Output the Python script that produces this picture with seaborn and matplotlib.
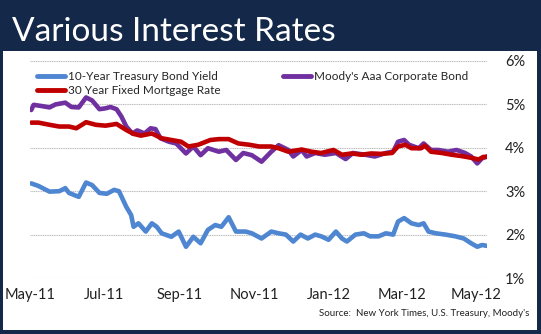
import matplotlib
matplotlib.use("Agg")
import matplotlib.pyplot as plt
import matplotlib.dates as mdates
from matplotlib.patches import Rectangle
import pandas as pd
import seaborn as sns

# ---------------- data ----------------
treasury_dates = [
    "2011-05-02", "2011-05-08", "2011-05-17", "2011-05-25", "2011-05-30", "2011-06-02",
    "2011-06-10", "2011-06-16", "2011-06-21", "2011-06-27", "2011-07-03", "2011-07-09",
    "2011-07-13", "2011-07-19", "2011-07-23", "2011-07-25", "2011-07-29", "2011-08-04",
    "2011-08-09", "2011-08-13", "2011-08-17", "2011-08-25", "2011-08-31", "2011-09-06",
    "2011-09-12", "2011-09-18", "2011-09-24", "2011-09-30", "2011-10-05", "2011-10-11",
    "2011-10-17", "2011-10-25", "2011-10-30", "2011-11-07", "2011-11-15",
    "2011-11-21", "2011-11-27", "2011-12-03", "2011-12-09", "2011-12-15", "2011-12-21",
    "2011-12-26", "2012-01-01", "2012-01-07", "2012-01-12", "2012-01-16", "2012-01-23",
    "2012-01-30", "2012-02-04", "2012-02-11", "2012-02-17", "2012-02-23", "2012-02-27",
    "2012-03-03", "2012-03-09", "2012-03-15", "2012-03-19", "2012-03-23", "2012-03-29",
    "2012-04-06", "2012-04-14", "2012-04-21", "2012-04-27", "2012-05-02", "2012-05-06",
    "2012-05-10",
]
treasury_yield = [
    3.18, 3.12, 2.99, 3.00, 3.07, 2.96, 2.87, 3.20, 3.14, 2.96, 2.94, 3.03,
    3.00, 2.64, 2.45, 2.18, 2.26, 2.07, 2.26, 2.18, 2.03, 1.95, 2.07, 1.72,
    1.95, 1.80, 2.11, 2.22, 2.18, 2.40, 2.07, 2.07, 2.03, 1.91, 2.07,
    2.03, 2.00, 1.84, 2.00, 1.91, 2.00, 1.96, 1.88, 2.07, 1.91, 1.84, 2.00,
    2.03, 1.96, 1.96, 2.03, 2.00, 2.30, 2.38, 2.26, 2.22, 2.26, 2.07, 2.03,
    2.00, 1.96, 1.91, 1.80, 1.72, 1.76, 1.74,
]

moodys_dates = [
    "2011-05-02", "2011-05-04", "2011-05-11", "2011-05-17", "2011-05-22", "2011-05-30",
    "2011-06-04", "2011-06-10", "2011-06-16", "2011-06-21", "2011-06-27", "2011-07-02",
    "2011-07-06", "2011-07-11", "2011-07-15", "2011-07-19", "2011-07-24", "2011-07-28",
    "2011-08-03", "2011-08-08", "2011-08-12", "2011-08-16", "2011-08-23", "2011-08-29",
    "2011-09-06", "2011-09-12", "2011-09-18", "2011-09-24", "2011-10-03", "2011-10-09",
    "2011-10-17", "2011-10-23", "2011-10-30", "2011-11-07", "2011-11-15",
    "2011-11-21", "2011-11-29", "2011-12-03", "2011-12-10", "2011-12-14", "2011-12-21",
    "2011-12-29", "2012-01-07", "2012-01-15", "2012-01-21", "2012-01-31", "2012-02-08",
    "2012-02-17", "2012-02-23", "2012-02-27", "2012-03-03", "2012-03-07", "2012-03-15",
    "2012-03-19", "2012-03-25", "2012-03-31", "2012-04-08", "2012-04-15", "2012-04-22",
    "2012-04-27", "2012-05-02", "2012-05-06", "2012-05-10",
]
moodys_aaa = [
    4.87, 4.99, 4.96, 4.93, 5.00, 5.04, 4.94, 4.93, 5.16, 5.09, 4.89, 4.91,
    4.94, 4.89, 4.72, 4.49, 4.33, 4.40, 4.33, 4.45, 4.43, 4.22, 4.14, 4.10,
    3.87, 4.03, 3.83, 3.99, 3.91, 3.95, 3.72, 3.88, 3.83, 3.68, 3.91,
    4.06, 3.95, 3.80, 3.95, 3.80, 3.88, 3.84, 3.88, 3.74, 3.88, 3.84, 3.80,
    3.88, 3.91, 4.14, 4.18, 4.07, 3.99, 4.10, 3.95, 3.95, 3.91, 3.95, 3.88,
    3.80, 3.64, 3.76, 3.80,
]

mortgage_dates = [
    "2011-05-02", "2011-05-08", "2011-05-17", "2011-05-25", "2011-06-02", "2011-06-08",
    "2011-06-16", "2011-06-24", "2011-07-02", "2011-07-11", "2011-07-19", "2011-07-25",
    "2011-07-31", "2011-08-09", "2011-08-17", "2011-08-25", "2011-09-02", "2011-09-08",
    "2011-09-16", "2011-09-26", "2011-10-03", "2011-10-11", "2011-10-19", "2011-10-28",
    "2011-11-05", "2011-11-15",
    "2011-11-21", "2011-11-29", "2011-12-10", "2011-12-18", "2011-12-26", "2012-01-05",
    "2012-01-12", "2012-01-20", "2012-01-28", "2012-02-05", "2012-02-13", "2012-02-22",
    "2012-02-27", "2012-03-04", "2012-03-09", "2012-03-17", "2012-03-20", "2012-03-25",
    "2012-04-03", "2012-04-11", "2012-04-19", "2012-04-27", "2012-05-03", "2012-05-07",
    "2012-05-10",
]
mortgage_rate = [
    4.58, 4.58, 4.53, 4.49, 4.49, 4.45, 4.59, 4.53, 4.51, 4.55, 4.41, 4.32,
    4.28, 4.33, 4.22, 4.18, 4.14, 4.03, 4.07, 4.18, 4.20, 4.20, 4.10, 4.07,
    4.03, 4.03,
    3.99, 3.91, 3.96, 3.91, 3.88, 3.95, 3.84, 3.87, 3.84, 3.87, 3.86, 3.88,
    4.03, 4.07, 3.99, 3.99, 4.05, 3.91, 3.88, 3.84, 3.81, 3.77, 3.73, 3.79,
    3.79,
]

series_names = ["10-Year Treasury Bond Yield", "Moody's Aaa Corporate Bond",
                "30 Year Fixed Mortgage Rate"]
series_colors = ["#4F86D2", "#7030A0", "#C00000"]
y_ticks = [1, 2, 3, 4, 5, 6]
title_text = "Various Interest Rates"
source_text = "Source:  New York Times, U.S. Treasury, Moody's"

# ---------------- figure ----------------
sns.set_theme(style="white")
plt.rcParams["font.family"] = ["Lato", "DejaVu Sans"]

NAVY = "#14284A"
fig = plt.figure(figsize=(5.41, 3.34), dpi=100, facecolor=NAVY)
W, H = 541, 334
fig.patches.append(Rectangle((3 / W, 1 - 330 / H), 534 / W, 279 / H,
                             transform=fig.transFigure, facecolor="white",
                             edgecolor="none", zorder=-5))
fig.text(12 / W, 1 - 41 / H, title_text, color="white", fontsize=24,
         ha="left", va="baseline")

ax = fig.add_axes([30 / W, 1 - 278 / H, 457 / W, 217 / H])
ax.set_facecolor("none")
ax.set_zorder(2)

frames = [
    pd.DataFrame({"date": pd.to_datetime(treasury_dates), "rate": treasury_yield}),
    pd.DataFrame({"date": pd.to_datetime(moodys_dates), "rate": moodys_aaa}),
    pd.DataFrame({"date": pd.to_datetime(mortgage_dates), "rate": mortgage_rate}),
]
for df, name, col, z in zip(frames, series_names, series_colors, [3, 3, 4]):
    sns.lineplot(data=df, x="date", y="rate", ax=ax, color=col, linewidth=3.3,
                 label=name, zorder=z, legend=False)

ax.set_ylim(1, 6)
ax.set_yticks(y_ticks)
ax.set_yticklabels([f"{v}%" for v in y_ticks])
ax.yaxis.tick_right()
ax.set_xlim(pd.Timestamp("2011-05-01"), pd.Timestamp("2012-05-10"))
ax.xaxis.set_major_locator(mdates.MonthLocator(bymonth=[1, 3, 5, 7, 9, 11]))
ax.xaxis.set_major_formatter(mdates.DateFormatter("%b-%y"))
ax.set_xlabel("")
ax.set_ylabel("")
ax.tick_params(axis="both", length=0, labelsize=10.5, colors="#222222")
ax.tick_params(axis="y", pad=13)
ax.tick_params(axis="x", pad=7)
for lbl in ax.get_yticklabels():
    lbl.set_horizontalalignment("left")
ax.yaxis.grid(True, color="#BBBBBB", linewidth=0.8, linestyle=(0, (1, 0.6)))
ax.xaxis.grid(False)
for s in ax.spines.values():
    s.set_visible(False)

# legend order so that 2 columns read: [Treasury, Mortgage] | [Moody's]
h, l = ax.get_legend_handles_labels()
order = [0, 2, 1]
leg = ax.legend([h[i] for i in order], [l[i] for i in order], ncol=2,
                loc="upper left", bbox_to_anchor=(0.0, 0.985), frameon=False,
                fontsize=8.5, handlelength=2.4, handletextpad=0.2,
                columnspacing=5.3, labelspacing=0.25, borderaxespad=0.2)
for ln in leg.get_lines():
    ln.set_linewidth(3.5)

fig.text(529 / W, 1 - 313 / H, source_text, fontsize=7, ha="right",
         va="center", color="#222222")

fig.savefig("out.png", dpi=100, facecolor=NAVY)
